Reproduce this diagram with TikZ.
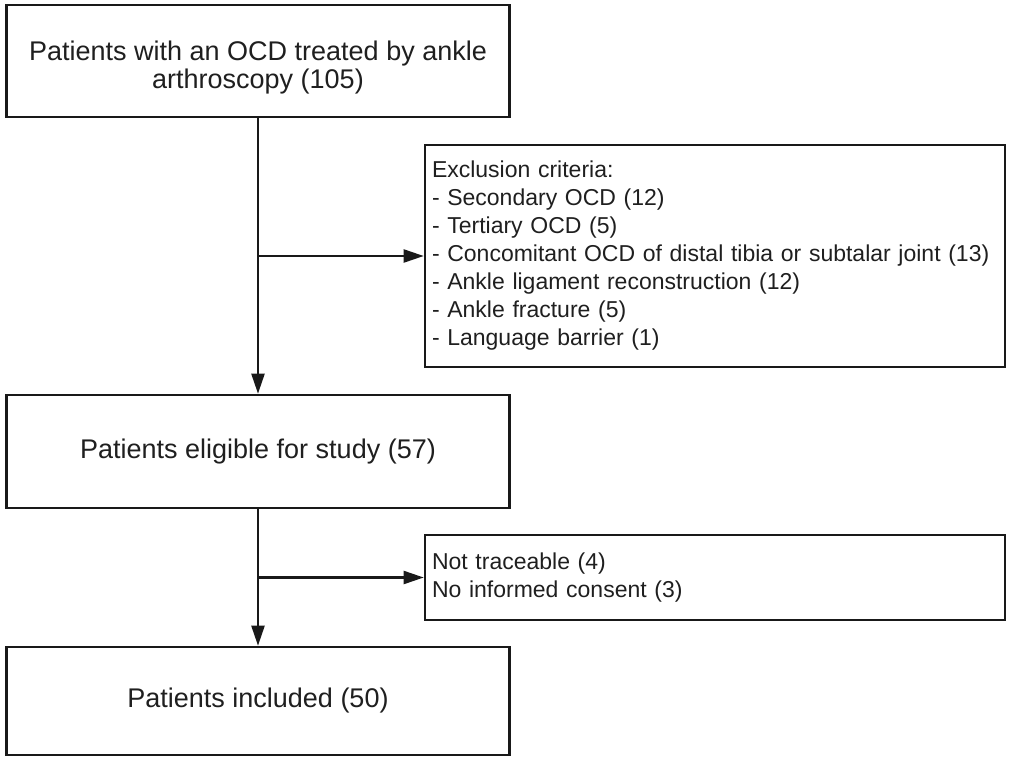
\documentclass[tikz,border=0pt]{standalone}
\usepackage{fontspec}
\setmainfont{Liberation Sans}
\usetikzlibrary{arrows.meta}
\begin{document}
\begin{tikzpicture}[x=1pt,y=-1pt,
  mainbox/.style={draw=black!90, line width=2.6pt, minimum width=503pt, inner sep=0pt,
    align=center, font=\fontsize{27}{28}\selectfont, text=black!88},
  sidebox/.style={draw=black!90, line width=2.6pt, minimum width=580pt, text width=574pt,
    inner xsep=3pt, inner ysep=0pt, align=left, font=\fontsize{23}{28}\selectfont, text=black!88},
  arr/.style={line width=2.2pt, draw=black!90, -{Triangle[length=20pt,width=13pt]}}]
\useasboundingbox (0,0) rectangle (1009,758);
\node[mainbox, minimum height=112pt] (b1) at (258,61) {\rule{0pt}{32pt}Patients with an OCD treated by ankle\\arthroscopy (105)};
\node[sidebox, minimum height=222pt] (b2) at (715,256) {\hspace*{4pt}Exclusion criteria:\\
\hspace*{4pt}- Secondary OCD (12)\\
\hspace*{4pt}- Tertiary OCD (5)\\
\hspace*{4pt}- Concomitant OCD of distal tibia or subtalar joint (13)\\
\hspace*{4pt}- Ankle ligament reconstruction (12)\\
\hspace*{4pt}- Ankle fracture (5)\\
\hspace*{4pt}- Language barrier (1)};
\node[mainbox, minimum height=113pt] (b3) at (258,451.5) {Patients eligible for study (57)};
\node[sidebox, minimum height=85pt] (b4) at (715,577.5) {\hspace*{4pt}Not traceable (4)\\\hspace*{4pt}No informed consent (3)};
\node[mainbox, minimum height=108pt] (b5) at (258,701) {Patients included (50)};
\coordinate (j1) at (b1.south |- b2.west);
\coordinate (j2) at (b3.south |- b4.west);
\draw[arr] (b1.south) -- (b3.north);
\draw[arr] (j1) -- (b2.west);
\draw[arr] (b3.south) -- (b5.north);
\draw[arr] (j2) -- (b4.west);
\end{tikzpicture}
\end{document}
